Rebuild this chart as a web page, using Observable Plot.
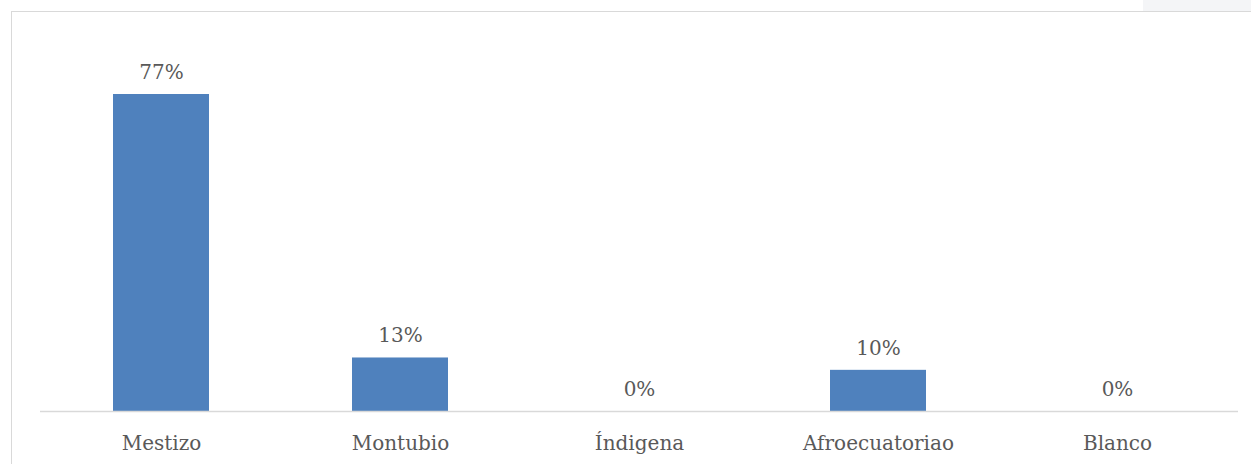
<!DOCTYPE html>
<html>
<head>
<meta charset="utf-8">
<script src="https://cdn.jsdelivr.net/npm/d3@7"></script>
<script src="https://cdn.jsdelivr.net/npm/@observablehq/plot@0.6"></script>
<style>
  html, body { margin: 0; padding: 0; background: #fff; }
  #wrap { position: relative; width: 1251px; height: 464px; overflow: hidden; }
  #frame { position: absolute; left: 11px; top: 11px; width: 1260px; height: 470px; border: 1px solid #d9d9d9; box-sizing: border-box; }
  #tab { position: absolute; left: 1143px; top: 0; width: 108px; height: 11px; background: #f4f5f7; }
  #chart { position: absolute; left: 0; top: 0; }
</style>
</head>
<body>
<div id="wrap">
  <div id="tab"></div>
  <div id="frame"></div>
  <div id="chart"></div>
</div>
<script>
const categories = ["Mestizo", "Montubio", "Índigena", "Afroecuatoriao", "Blanco"];
const values = [77, 13, 0, 10, 0];
const data = categories.map((c, i) => ({cat: c, v: values[i]}));

const font = "'DejaVu Serif', serif";
const chart = Plot.plot({
  width: 1251,
  height: 464,
  marginLeft: 40,
  marginRight: 13,
  marginBottom: 53,
  marginTop: 20,
  style: {fontFamily: font, fontSize: "20px", color: "#595959", background: "transparent"},
  x: {domain: categories, paddingInner: 0.6, paddingOuter: 0.3, label: null},
  y: {domain: [0, 77], range: [411, 94], axis: null},
  marks: [
    Plot.barY(data, {x: "cat", y: "v", fill: "#4f81bd"}),
    Plot.ruleY([0], {stroke: "#d9d9d9", strokeWidth: 1.5, strokeOpacity: 1}),
    Plot.text(data, {x: "cat", y: "v", text: d => d.v + "%", dy: -22, fill: "#595959", fontSize: 20}),
    Plot.axisX({tickSize: 0, tickPadding: 24, fontSize: 20, fill: "#595959", label: null})
  ]
});
document.getElementById("chart").appendChild(chart);
</script>
</body>
</html>
